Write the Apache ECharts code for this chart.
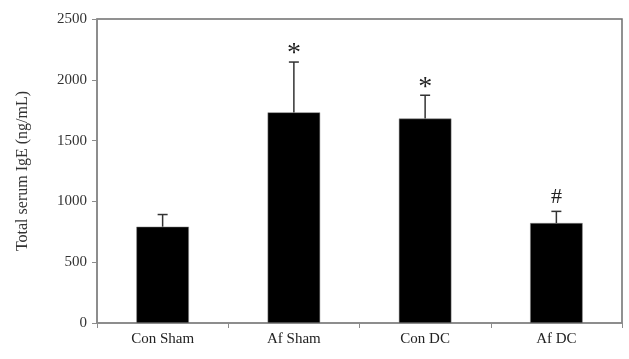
<!DOCTYPE html>
<html>
<head>
<meta charset="utf-8">
<script src="https://cdn.jsdelivr.net/npm/echarts@6/dist/echarts.min.js"></script>
<style>
  html, body { margin: 0; padding: 0; background: #fff; }
  #container { width: 629px; height: 359px; }
</style>
</head>
<body>
<div id="container"></div>
<script>
;(function() {
  var groups = ['Con Sham', 'Af Sham', 'Con DC', 'Af DC']
  var means = [792, 1732, 1681, 822]
  var errTops = [892, 2146, 1873, 918]
  var marks = ['', '*', '*', '#']
  var yTicks = [0, 500, 1000, 1500, 2000, 2500]

  var serif = '"Liberation Serif", "DejaVu Serif", serif'
  var myChart = echarts.init(document.getElementById('container'))

  var errData = []
  for (var i = 0; i < groups.length; i++) {
    errData.push([i, means[i], errTops[i], marks[i]])
  }

  var option = {
    animation: false,
    backgroundColor: '#fff',
    grid: {
      left: 97, right: 7, top: 19, bottom: 36,
      show: true,
      borderColor: '#6e6e6e',
      borderWidth: 1.5
    },
    xAxis: {
      type: 'category',
      data: groups,
      axisLine: { lineStyle: { color: '#8c8c8c', width: 1.5 } },
      axisTick: { show: true, length: 5, inside: false, lineStyle: { color: '#8c8c8c' } },
      axisLabel: { color: '#222', fontFamily: serif, fontSize: 15, margin: 9 }
    },
    yAxis: {
      type: 'value',
      min: yTicks[0],
      max: yTicks[yTicks.length - 1],
      interval: 500,
      name: 'Total serum IgE (ng/mL)',
      nameLocation: 'middle',
      nameGap: 66,
      nameTextStyle: { color: '#333', fontFamily: serif, fontSize: 16 },
      axisLine: { show: true, lineStyle: { color: '#8c8c8c', width: 1.5 } },
      axisTick: { show: true, length: 5, lineStyle: { color: '#8c8c8c' } },
      splitLine: { show: false },
      axisLabel: {
        color: '#333', fontFamily: serif, fontSize: 15, margin: 10,
        formatter: function(v) { return String(v) }
      }
    },
    series: [
      {
        type: 'bar',
        data: means,
        barWidth: '40%',
        itemStyle: { color: '#000', borderColor: '#888', borderWidth: 0.5 },
        z: 2
      },
      {
        type: 'custom',
        data: errData,
        z: 3,
        renderItem: function(params, api) {
          var x = api.coord([api.value(0), api.value(1)])
          var top = api.coord([api.value(0), api.value(2)])
          var cap = 5
          var children = [
            { type: 'line', shape: { x1: x[0], y1: x[1], x2: top[0], y2: top[1] }, style: { stroke: '#333', lineWidth: 1.5 } },
            { type: 'line', shape: { x1: top[0] - cap, y1: top[1], x2: top[0] + cap, y2: top[1] }, style: { stroke: '#333', lineWidth: 1.5 } }
          ]
          var m = marks[params.dataIndex]
          if (m) {
            children.push({
              type: 'text',
              style: {
                text: m,
                x: top[0],
                y: m === '*' ? top[1] + 6 : top[1] - 3,
                align: 'center',
                verticalAlign: 'bottom',
                fill: '#222',
                font: (m === '*' ? '28px ' : '22px ') + serif
              }
            })
          }
          return { type: 'group', children: children }
        }
      }
    ]
  }

  myChart.setOption(option, true)
})()
</script>
</body>
</html>
